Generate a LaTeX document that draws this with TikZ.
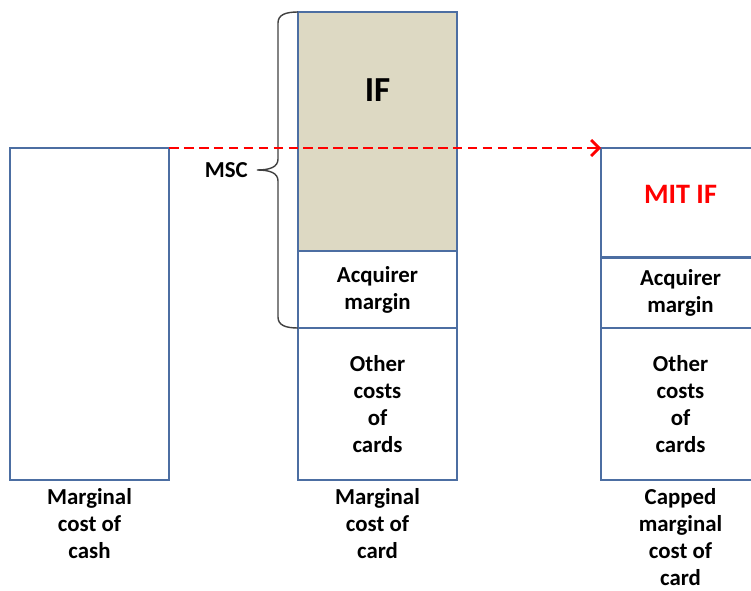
\documentclass[tikz,border=0pt]{standalone}
\usepackage{fontspec}
\setmainfont{Carlito}
\usetikzlibrary{positioning,arrows.meta}
\definecolor{barblue}{RGB}{76,110,162}
\definecolor{iftan}{RGB}{221,217,195}
\definecolor{bracegrey}{RGB}{64,64,64}
\newcommand\labelfont{\bfseries\fontsize{13}{15.4}\selectfont}
\tikzset{
  bar/.style={draw=barblue, line width=1.3pt, minimum width=3.18cm,
    inner sep=0pt, outer sep=0pt, align=center, font=\labelfont},
  caption/.style={align=center, font=\labelfont, inner sep=0pt},
  mscbrace/.style={draw=bracegrey, line width=0.8pt},
  capline/.style={red, line width=1.6pt, dash pattern=on 5.5pt off 3pt,
    -{Straight Barb[length=4.5pt,width=9pt]}},
}
\begin{document}
\begin{tikzpicture}
  \useasboundingbox (0,0) rectangle (15.02,11.8);

  % cash
  \node[bar, minimum height=6.64cm, anchor=north west] (cash) at (0.2,8.84) {};
  \node[caption, below=0.16cm of cash] (cashcap) {Marginal\\cost of\\cash};

  % card
  \node[bar, fill=iftan, minimum height=4.78cm, anchor=north west] (ifbox) at (5.96,11.56) {};
  \node[font=\bfseries\fontsize{20}{24}\selectfont] (iflabel) at ([yshift=-1.56cm]ifbox.north) {IF};
  \node[bar, minimum height=1.54cm, below=0pt of ifbox] (acq) {Acquirer\\margin};
  \node[bar, minimum height=3.04cm, below=0pt of acq] (other) {Other\\costs\\of\\cards};
  \node[caption, below=0.16cm of other] (cardcap) {Marginal\\cost of\\card};

  % capped card
  \node[bar, minimum height=2.18cm, anchor=north west] (mit) at (12.02,8.84) {};
  \node[red, font=\bfseries\fontsize{16}{19}\selectfont] (mitlabel) at ([yshift=-0.92cm]mit.north) {MIT IF};
  \node[bar, minimum height=1.40cm, below=0.02cm of mit] (acqcap) {Acquirer\\margin};
  \node[bar, minimum height=3.04cm, below=0pt of acqcap] (othercap) {Other\\costs\\of\\cards};
  \node[caption, below=0.16cm of othercap] (cappedcap) {Capped\\marginal\\cost of\\card};

  % brace for MSC
  \coordinate (msctip) at (5.14,8.4);
  \draw[mscbrace] (ifbox.north west)
    .. controls (5.7,11.56) and (5.56,11.5) .. (5.56,11.34)
    -- (5.56,8.62)
    .. controls (5.56,8.46) and (5.4,8.4) .. (msctip)
    .. controls (5.4,8.4) and (5.56,8.34) .. (5.56,8.18)
    -- (5.56,5.46)
    .. controls (5.56,5.3) and (5.7,5.24) .. (acq.south west);
  \node[font=\bfseries\fontsize{13}{15.4}\selectfont, inner sep=0pt, left=0.18cm of msctip] (msc) {MSC};

  \draw[capline] (cash.north east) -- (mit.north west);
\end{tikzpicture}
\end{document}
